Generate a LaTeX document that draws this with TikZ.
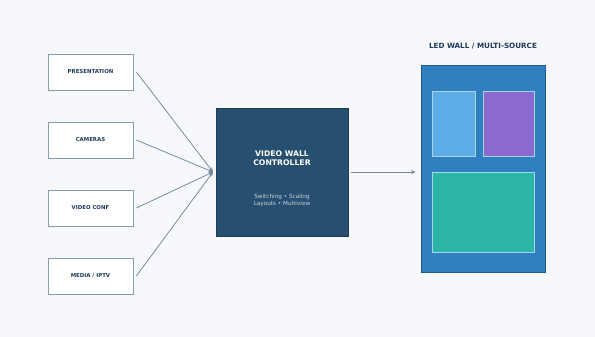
\documentclass[tikz,border=0pt]{standalone}
\usepackage{fontspec}
\setmainfont{DejaVu Sans}
\usetikzlibrary{arrows.meta}
\definecolor{bg}{HTML}{F6F8FB}
\definecolor{srcborder}{HTML}{8A9BAE}
\definecolor{srctext}{HTML}{1F3A5A}
\definecolor{ctrl}{HTML}{264F70}
\definecolor{ctrlborder}{HTML}{1C3D58}
\definecolor{subtext}{HTML}{C9D6E3}
\definecolor{arrowc}{HTML}{71879C}
\definecolor{wall}{HTML}{2E80C0}
\definecolor{wallborder}{HTML}{1F5C8E}
\definecolor{pblue}{HTML}{5DAEE6}
\definecolor{ppurple}{HTML}{8A6AD0}
\definecolor{pteal}{HTML}{2BB5A6}
\definecolor{pborder}{HTML}{A9D4F0}
\begin{document}
\begin{tikzpicture}[x=1pt,y=-1pt,
  srcbox/.style={draw=srcborder,fill=white,line width=0.8pt,minimum width=85pt,minimum height=36pt,inner sep=0pt,text=srctext,font=\fontsize{5.4}{6}\selectfont\bfseries},
  conn/.style={draw=arrowc,line width=0.75pt,-{Stealth[length=4.5pt,width=4pt]}},
  panel/.style={draw=pborder,line width=0.6pt,inner sep=0pt}]
\useasboundingbox (0,0) rectangle (595,337);
\fill[bg] (0,0) rectangle (595,337);
% sources
\node[srcbox] (s1) at (90.5,72) {PRESENTATION};
\node[srcbox] (s2) at (90.5,140) {CAMERAS};
\node[srcbox] (s3) at (90.5,208) {VIDEO CONF};
\node[srcbox] (s4) at (90.5,276) {MEDIA / IPTV};
% controller
\node[draw=ctrlborder,fill=ctrl,line width=0.8pt,minimum width=132pt,minimum height=128pt,inner sep=0pt] (ctrl) at (282,172) {};
\node[text=white,font=\fontsize{7.7}{9}\selectfont\bfseries,align=center] (ctitle) at (282,158) {VIDEO WALL\\CONTROLLER};
\node[text=subtext,font=\fontsize{5.7}{6.7}\selectfont,align=center] (csub) at (282,200.5) {Switching • Scaling\\Layouts • Multiview};
\coordinate (cin) at (213,172);
\foreach \s in {s1,s2,s3,s4}{
  \draw[conn] ([xshift=3pt]\s.east) -- (cin);
}
% wall
\node[draw=wallborder,fill=wall,line width=0.8pt,minimum width=124pt,minimum height=207pt,inner sep=0pt] (wall) at (483,168.5) {};
\node[text=srctext,font=\fontsize{7.2}{8}\selectfont\bfseries] (wtitle) at (483,46) {LED WALL / MULTI-SOURCE};
\node[panel,fill=pblue,minimum width=43pt,minimum height=65pt] (p1) at (453.5,123.5) {};
\node[panel,fill=ppurple,minimum width=51pt,minimum height=65pt] (p2) at (508.5,123.5) {};
\node[panel,fill=pteal,minimum width=102pt,minimum height=80pt] (p3) at (483,212) {};
\draw[conn] ([xshift=3pt]ctrl.east) -- ([xshift=-5pt]wall.west|-ctrl.east);
\end{tikzpicture}
\end{document}
